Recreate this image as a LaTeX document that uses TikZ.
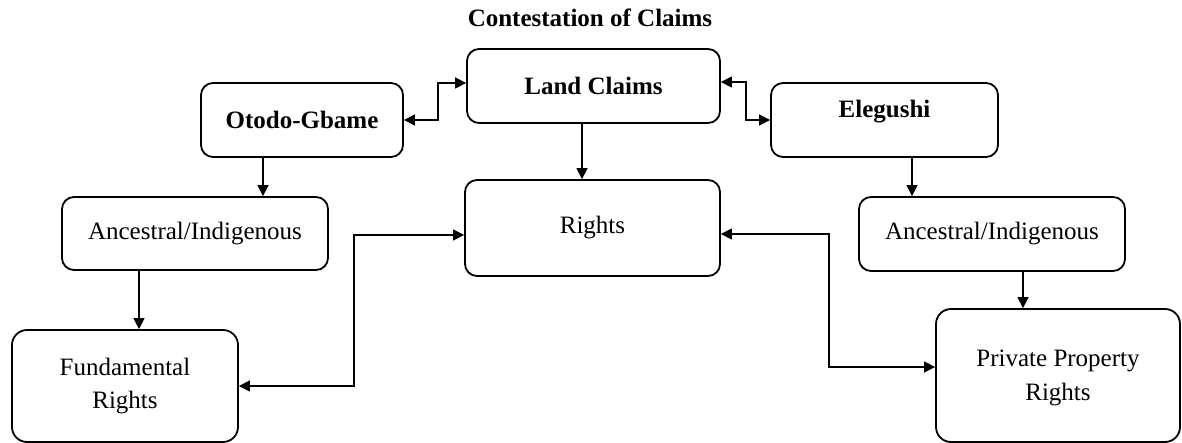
\documentclass[tikz,border=0pt]{standalone}
\usepackage{fontspec}
\setmainfont{Liberation Serif}
\usetikzlibrary{arrows.meta}
\begin{document}
\begin{tikzpicture}[x=1pt,y=1pt,
  box/.style={draw, line width=0.9pt, rounded corners=6pt, align=center, inner sep=2pt,
    font=\fontsize{12.5}{16}\selectfont},
  bigbox/.style={box, rounded corners=7.5pt},
  boldbox/.style={box, font=\fontsize{12.5}{16}\selectfont\bfseries},
  conn/.style={line width=0.75pt, -{Triangle[length=5.5pt,width=5.5pt]}},
  biconn/.style={line width=0.75pt, {Triangle[length=5.5pt,width=5.5pt]}-{Triangle[length=5.5pt,width=5.5pt]}}
]
\useasboundingbox (0,0) rectangle (591,-221.5);

\node[font=\fontsize{12.5}{16}\selectfont\bfseries] (title) at (295,-9) {Contestation of Claims};

\node[boldbox, minimum width=126.5pt, minimum height=37pt] (land) at (296.75,-43) {Land Claims};
\node[boldbox, minimum width=101pt, minimum height=37pt] (otodo) at (151,-60) {Otodo-Gbame};
\node[boldbox, minimum width=113.5pt, minimum height=37pt, text depth=11.5pt] (eleg) at (442.25,-60) {Elegushi};
\node[box, minimum width=127.5pt, minimum height=48pt] (rights) at (296.25,-114) {Rights};
\node[box, minimum width=133pt, minimum height=36.5pt] (ancL) at (97.5,-116.75) {Ancestral/Indigenous};
\node[box, minimum width=133pt, minimum height=37pt] (ancR) at (496,-117) {Ancestral/Indigenous};
\node[bigbox, minimum width=113pt, minimum height=56pt, font=\fontsize{12.5}{16.5}\selectfont] (fund) at (62.5,-193) {Fundamental\\Rights};
\node[bigbox, minimum width=122pt, minimum height=66.5pt, font=\fontsize{12.5}{17}\selectfont, text depth=0pt] (priv) at (529,-187.75) {Private Property\\Rights};

\draw[biconn] (otodo.east) -- ++(17,0) |- ([yshift=1.5pt]land.west);
\draw[biconn] ([yshift=2pt]land.east) -- ++(12.5,0) |- (eleg.west);
\draw[conn] ([xshift=-5.75pt]land.south) -- ([xshift=-5.75pt]land.south |- rights.north);
\draw[conn] ([xshift=-19.5pt]otodo.south) -- ([xshift=-19.5pt]otodo.south |- ancL.north);
\draw[conn] ([xshift=13.75pt]eleg.south) -- ([xshift=13.75pt]eleg.south |- ancR.north);
\draw[conn] ([xshift=-28pt]ancL.south) -- ([xshift=-28pt]ancL.south |- fund.north);
\draw[conn] ([xshift=15.5pt]ancR.south) -- ([xshift=15.5pt]ancR.south |- priv.north);
\draw[biconn] (fund.east) -- ++(57.5,0) |- ([yshift=-3.5pt]rights.west);
\draw[biconn] ([yshift=-3pt]rights.east) -- ++(54,0) |- ([yshift=4.25pt]priv.west);
\end{tikzpicture}
\end{document}
